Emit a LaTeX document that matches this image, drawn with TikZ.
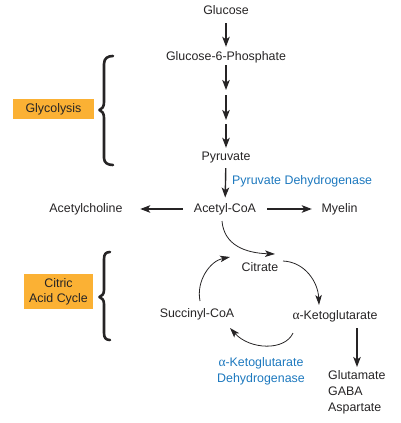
\documentclass[tikz,border=0pt]{standalone}
\usepackage{fontspec}
\setmainfont{Liberation Sans}
\newfontfamily\grkfont{Liberation Serif}
\usetikzlibrary{arrows.meta}
\definecolor{ink}{RGB}{38,36,37}
\definecolor{enz}{RGB}{28,120,190}
\definecolor{tag}{RGB}{251,177,52}
\newcommand{\galpha}{{\grkfont\fontsize{13.5}{15}\selectfont α}}
\tikzset{
  lbl/.style={font=\fontsize{12.4}{15}\selectfont, text=ink, inner sep=0pt, text height=9pt, text depth=2.5pt},
  multi/.style={font=\fontsize{12.4}{16}\selectfont, text=ink, inner sep=0pt},
  arr/.style={draw=ink, line width=1.4pt, -{Stealth[length=10pt,width=7.5pt,inset=2.5pt]}},
  carr/.style={draw=ink, line width=0.8pt, -{Stealth[length=10pt,width=6.5pt,inset=2.5pt]}},
  brace/.style={draw=ink, line width=2.6pt, line cap=round, line join=round},
  tagbox/.style={fill=tag, draw=none}
}
\begin{document}
\begin{tikzpicture}[x=1pt,y=-1pt]
\useasboundingbox (0,0) rectangle (400,423);

% main chain
\node[lbl] (glc) at (226,11) {Glucose};
\node[lbl] (g6p) at (226,57) {Glucose-6-Phosphate};
\coordinate (a1) at (226,90);
\coordinate (a2) at (226,95);
\coordinate (a3) at (226,120);
\coordinate (a4) at (226,124);
\node[lbl] (pyr) at (226,157) {Pyruvate};
\node[lbl] (acoa) at (225,209) {Acetyl-CoA};
\node[lbl] (ach) at (86,209) {Acetylcholine};
\node[lbl] (mye) at (339.5,209) {Myelin};
\node[lbl, text=enz, anchor=west] (pdh) at (232,181) {Pyruvate Dehydrogenase};

\draw[arr, shorten <=6.25pt, shorten >=4.25pt] (glc) -- (g6p);
\draw[arr, shorten <=2.25pt] (g6p) -- (a1);
\draw[arr] (a2) -- (a3);
\draw[arr, shorten >=3.25pt] (a4) -- (pyr);
\draw[arr, shorten <=5.25pt, shorten >=5.5pt] (pyr) -- (acoa);
\draw[arr, shorten <=11pt, shorten >=17.5pt] (acoa) -- (ach);
\draw[arr, shorten <=11pt, shorten >=9.6pt] (acoa) -- (mye);

% citric acid cycle
\node[lbl] (cit) at (260,268) {Citrate};
\node[lbl] (akg) at (335,316) {\galpha-Ketoglutarate};
\node[lbl] (suc) at (197,314) {Succinyl-CoA};
\node[multi, align=left, anchor=west] (prod) at (328,392) {Glutamate\\GABA\\Aspartate};
\node[multi, align=center, text=enz] (akgdh) at (261,371) {\galpha-Ketoglutarate\\Dehydrogenase};

\draw[carr] ([shift={(-3,12)}]acoa.center) .. controls +(2,24) and +(-30,-1) .. ([shift={(15,-14)}]cit.center);
\draw[carr] ([shift={(23,-7)}]cit.center) .. controls +(22,1) and +(-1,-23) .. ([shift={(-16,-11)}]akg.center);
\draw[carr] ([shift={(-42,17)}]akg.center) .. controls +(-8,18) and +(20,22) .. ([shift={(33,14)}]suc.center);
\draw[carr] ([shift={(3,-13)}]suc.center) .. controls +(-4,-20) and +(-20,4) .. ([shift={(-30,-11)}]cit.center);
\draw[arr] ([shift={(22,12)}]akg.center) -- ([shift={(29,-25)}]prod.west);

% labels with braces
\node[tagbox, minimum width=81pt, minimum height=20pt, inner sep=0pt] (glyb) at (53.5,109) {};
\node[lbl] (glyt) at (glyb.center) {Glycolysis};
\draw[brace] (113,56) .. controls (108,56) and (104,58) .. (104,64) -- (104,102)
  .. controls (104,107) and (102,109) .. (99.5,110) .. controls (102,111) and (104,113) .. (104,118)
  -- (104,158) .. controls (104,163) and (108,165) .. (113,165);

\node[tagbox, minimum width=69pt, minimum height=35pt, inner sep=0pt] (cacb) at (58.5,291.5) {};
\node[multi, align=center, font=\fontsize{12.4}{15}\selectfont] (cact) at (cacb.center) {Citric\\Acid Cycle};
\draw[brace] (110,252) .. controls (106,252) and (104,254) .. (104,259) -- (104,290)
  .. controls (104,294) and (102,296) .. (99.5,297) .. controls (102,298) and (104,300) .. (104,304)
  -- (104,333) .. controls (104,338) and (106,340) .. (110,340);
\end{tikzpicture}
\end{document}
